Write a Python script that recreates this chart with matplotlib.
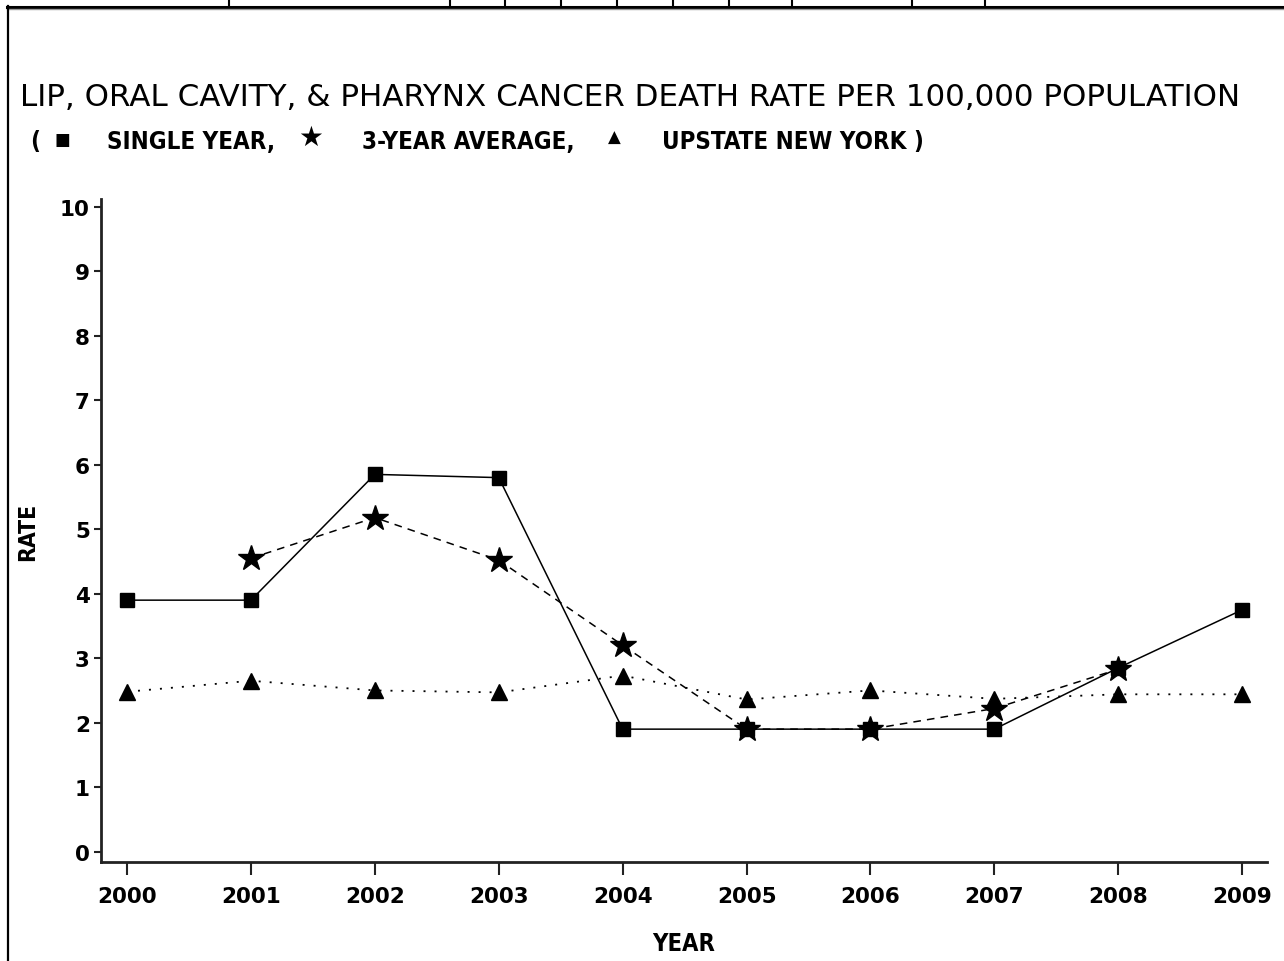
import matplotlib
matplotlib.use("Agg")
import matplotlib.pyplot as plt
from matplotlib.lines import Line2D

# data
years = [2000, 2001, 2002, 2003, 2004, 2005, 2006, 2007, 2008, 2009]
single_year = [3.9, 3.9, 5.85, 5.8, 1.9, 1.9, 1.9, 1.9, 2.85, 3.75]
avg_years = [2001, 2002, 2003, 2004, 2005, 2006, 2007, 2008]
three_year_avg = [4.55, 5.18, 4.52, 3.2, 1.9, 1.9, 2.22, 2.83]
upstate = [2.48, 2.65, 2.5, 2.47, 2.73, 2.36, 2.5, 2.37, 2.44, 2.44]
y_ticks = list(range(0, 11))

W, H = 1284, 962
fig = plt.figure(figsize=(W / 100, H / 100), dpi=100)
fig.patch.set_facecolor("white")

def fx(px):
    return px / W

def fy(py):
    return 1 - py / H

ax = fig.add_axes([fx(101), fy(863), fx(1267) - fx(101), fy(200) - fy(863)])

ax.plot(years, single_year, color="black", lw=1.1, marker="s", ms=9.5,
        zorder=3)
ax.plot(avg_years, three_year_avg, color="black", lw=1.1, ls=(0, (5, 4)),
        marker="*", ms=19, zorder=4)
ax.plot(years, upstate, color="black", lw=1.3, ls=(0, (1.1, 5)),
        marker="^", ms=11, zorder=2)

ax.set_xlim(1999.79, 2009.2)
ax.set_ylim(-0.16, 10.12)
ax.set_xticks(years)
ax.set_yticks(y_ticks)

tick_font = dict(family="DejaVu Sans", weight="bold", size=15.5)
ax.set_xticklabels([str(y) for y in years], fontdict=tick_font)
ax.set_yticklabels([str(v) for v in y_ticks], fontdict=tick_font)

for s in ["top", "right"]:
    ax.spines[s].set_visible(False)
for s in ["left", "bottom"]:
    ax.spines[s].set_linewidth(2)
    ax.spines[s].set_color("#222222")

ax.tick_params(axis="x", length=9, width=1.5, pad=8, color="#222222")
ax.tick_params(axis="y", length=5, width=1.5, pad=3, color="#222222")

ax.set_ylabel("RATE", fontsize=16.5, fontweight="bold", labelpad=15,
              fontstretch="condensed")
ax.set_xlabel("YEAR", fontsize=17, fontweight="bold", labelpad=18,
              fontstretch="condensed")

# title and legend line
fig.text(fx(20), fy(97), "LIP, ORAL CAVITY, & PHARYNX CANCER DEATH RATE PER 100,000 POPULATION",
         fontsize=22.3, family="DejaVu Sans", va="center", ha="left")

leg_font = dict(fontsize=17.3, fontweight="bold", va="center", ha="left",
                fontstretch="condensed")
fig.text(fx(30), fy(142), "(", **leg_font)
fig.text(fx(55), fy(140), "\u25a0", fontsize=12, va="center", ha="left")
fig.text(fx(107), fy(142), "SINGLE YEAR,", **leg_font)
fig.text(fx(298), fy(138), "\u2605", fontsize=20, va="center", ha="left")
fig.text(fx(362), fy(142), "3-YEAR AVERAGE,", **leg_font)
fig.text(fx(608), fy(138), "\u25b2", fontsize=12, va="center", ha="left")
fig.text(fx(662), fy(142), "UPSTATE NEW YORK )", **leg_font)

# page frame lines around the chart
fig.add_artist(Line2D([fx(7), 1], [fy(7.5), fy(7.5)], color="black", lw=2.2))
fig.add_artist(Line2D([fx(7), 1], [fy(9.5), fy(9.5)], color="#999999", lw=1))
fig.add_artist(Line2D([fx(7.5), fx(7.5)], [fy(7), 0], color="black", lw=1.6))
for cx in [229, 450, 505, 561, 617, 673, 729, 792, 912, 985]:
    fig.add_artist(Line2D([fx(cx), fx(cx)], [1, fy(7)], color="black", lw=1.5))

fig.savefig("out.png", dpi=100, facecolor="white")
